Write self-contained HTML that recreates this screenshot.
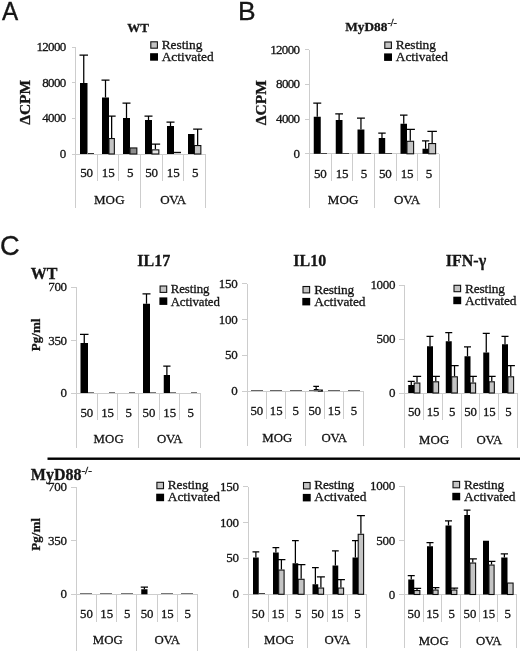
<!DOCTYPE html>
<html lang="en"><head><meta charset="utf-8"><title>Figure</title>
<style>
html,body{margin:0;padding:0;background:#fff;}
svg{display:block;}
text.s{font-family:"Liberation Serif", "DejaVu Serif", serif;fill:#141414;stroke:#141414;stroke-width:.3px;}
text.a{font-family:"Liberation Sans", "DejaVu Sans", sans-serif;fill:#141414;stroke:#141414;stroke-width:.35px;}
</style></head><body>
<svg width="520" height="658" viewBox="0 0 520 658">
<defs><filter id="soft" filterUnits="userSpaceOnUse" x="-20" y="-20" width="560" height="700"><feGaussianBlur stdDeviation="0.4"/></filter></defs>
<g filter="url(#soft)">
<rect x="-20" y="-20" width="560" height="700" fill="#fff"/>
<text class="a" transform="translate(1.9 20.3) scale(0.92 1)" font-size="26.4" text-anchor="start">A</text>
<text class="a" x="238.1" y="20.3" font-size="26.4" text-anchor="start">B</text>
<text class="a" x="0.0" y="254.7" font-size="27.2" text-anchor="start">C</text>
<text class="s" x="138.1" y="31.5" font-size="13" text-anchor="middle" font-weight="bold">WT</text>
<text class="s" font-weight="bold" font-size="15.5" text-anchor="middle" transform="translate(29.6,102.3) rotate(-90)">ΔCPM</text>
<rect x="150.80" y="41.80" width="6.60" height="6.40" fill="#c4c4c4" stroke="#111" stroke-width="1.1"/>
<rect x="150.10" y="53.20" width="7.90" height="7.50" fill="#000"/>
<text class="s" x="161.7" y="49.2" font-size="13.4" text-anchor="start" textLength="40.7" lengthAdjust="spacing">Resting</text>
<text class="s" x="161.7" y="61.2" font-size="13.4" text-anchor="start" textLength="51.9" lengthAdjust="spacing">Activated</text>
<line x1="75.5" y1="47" x2="75.5" y2="154" stroke="#cdcdcd" stroke-width="1"/>
<line x1="72" y1="47.5" x2="76" y2="47.5" stroke="#cdcdcd" stroke-width="1"/>
<text class="s" x="65.64999999999999" y="51.095" font-size="13" text-anchor="end" letter-spacing="-0.65">12000</text>
<line x1="72" y1="82.5" x2="76" y2="82.5" stroke="#cdcdcd" stroke-width="1"/>
<text class="s" x="65.64999999999999" y="86.795" font-size="13" text-anchor="end" letter-spacing="-0.65">8000</text>
<line x1="72" y1="118.5" x2="76" y2="118.5" stroke="#cdcdcd" stroke-width="1"/>
<text class="s" x="65.64999999999999" y="122.395" font-size="13" text-anchor="end" letter-spacing="-0.65">4000</text>
<line x1="72" y1="154.5" x2="76" y2="154.5" stroke="#cdcdcd" stroke-width="1"/>
<text class="s" x="66.3" y="158.095" font-size="13" text-anchor="end">0</text>
<line x1="76" y1="154.5" x2="206" y2="154.5" stroke="#cdcdcd" stroke-width="1"/>
<line x1="75.5" y1="154" x2="75.5" y2="208" stroke="#cdcdcd" stroke-width="1"/>
<line x1="97.5" y1="154" x2="97.5" y2="181" stroke="#cdcdcd" stroke-width="1"/>
<line x1="118.5" y1="154" x2="118.5" y2="181" stroke="#cdcdcd" stroke-width="1"/>
<line x1="140.5" y1="154" x2="140.5" y2="208" stroke="#cdcdcd" stroke-width="1"/>
<line x1="162.5" y1="154" x2="162.5" y2="181" stroke="#cdcdcd" stroke-width="1"/>
<line x1="183.5" y1="154" x2="183.5" y2="181" stroke="#cdcdcd" stroke-width="1"/>
<line x1="205.5" y1="154" x2="205.5" y2="208" stroke="#cdcdcd" stroke-width="1"/>
<text class="s" x="86.53" y="177.10000000000002" font-size="13" text-anchor="middle" letter-spacing="-0.15">50</text>
<text class="s" x="108.20" y="177.10000000000002" font-size="13" text-anchor="middle" letter-spacing="-0.15">15</text>
<text class="s" x="130.17" y="177.10000000000002" font-size="13" text-anchor="middle">5</text>
<text class="s" x="151.53" y="177.10000000000002" font-size="13" text-anchor="middle" letter-spacing="-0.15">50</text>
<text class="s" x="173.20" y="177.10000000000002" font-size="13" text-anchor="middle" letter-spacing="-0.15">15</text>
<text class="s" x="195.17" y="177.10000000000002" font-size="13" text-anchor="middle">5</text>
<text class="s" x="109.30" y="203.9" font-size="13" text-anchor="middle" letter-spacing="0.15">MOG</text>
<text class="s" x="173.10" y="203.9" font-size="13" text-anchor="middle" letter-spacing="-0.2">OVA</text>
<path d="M83.75 83.00V55.00M79.50 55.00H88.00" stroke="#000" stroke-width="1.25" fill="none"/>
<rect x="80.00" y="83.00" width="7.50" height="71.00" fill="#000"/>
<path d="M105.50 97.50V80.00M101.50 80.00H109.50" stroke="#000" stroke-width="1.25" fill="none"/>
<rect x="102.00" y="97.50" width="7.00" height="56.50" fill="#000"/>
<path d="M111.65 138.00V116.00M107.65 116.00H115.65" stroke="#000" stroke-width="1.25" fill="none"/>
<rect x="108.95" y="138.55" width="5.40" height="15.45" fill="#c4c4c4" stroke="#111" stroke-width="1.1"/>
<path d="M126.50 118.00V103.00M122.50 103.00H130.50" stroke="#000" stroke-width="1.25" fill="none"/>
<rect x="123.00" y="118.00" width="7.00" height="36.00" fill="#000"/>
<rect x="129.95" y="147.95" width="6.90" height="6.05" fill="#8c8c8c" stroke="#111" stroke-width="1.1"/>
<path d="M148.50 120.00V116.00M144.50 116.00H152.50" stroke="#000" stroke-width="1.25" fill="none"/>
<rect x="145.00" y="120.00" width="7.00" height="34.00" fill="#000"/>
<path d="M155.40 149.30V144.00M150.65 144.00H160.15" stroke="#000" stroke-width="1.25" fill="none"/>
<rect x="151.95" y="149.85" width="6.90" height="4.15" fill="#e4e4e4" stroke="#111" stroke-width="1.1"/>
<path d="M170.50 126.00V122.00M166.50 122.00H174.50" stroke="#000" stroke-width="1.25" fill="none"/>
<rect x="167.00" y="126.00" width="7.00" height="28.00" fill="#000"/>
<rect x="188.00" y="134.00" width="6.50" height="20.00" fill="#000"/>
<path d="M197.65 145.00V129.00M193.15 129.00H202.15" stroke="#000" stroke-width="1.25" fill="none"/>
<rect x="194.45" y="145.55" width="6.40" height="8.45" fill="#c4c4c4" stroke="#111" stroke-width="1.1"/>
<line x1="88" y1="153.5" x2="94" y2="153.5" stroke="#333" stroke-width="1"/>
<line x1="174" y1="152.5" x2="181" y2="152.5" stroke="#111" stroke-width="1.4"/>
<text class="s" font-weight="bold" font-size="13.3" x="345.3" y="30.5">MyD88<tspan font-size="10" dy="-4.5">-/-</tspan></text>
<text class="s" font-weight="bold" font-size="15.5" text-anchor="middle" transform="translate(266.4,102.7) rotate(-90)">ΔCPM</text>
<rect x="384.80" y="42.00" width="6.60" height="6.40" fill="#c4c4c4" stroke="#111" stroke-width="1.1"/>
<rect x="384.10" y="53.40" width="7.90" height="7.50" fill="#000"/>
<text class="s" x="395.7" y="48.9" font-size="13.4" text-anchor="start" textLength="40.2" lengthAdjust="spacing">Resting</text>
<text class="s" x="395.7" y="60.9" font-size="13.4" text-anchor="start" textLength="52.2" lengthAdjust="spacing">Activated</text>
<line x1="309.5" y1="50" x2="309.5" y2="154" stroke="#cdcdcd" stroke-width="1"/>
<line x1="305" y1="49.5" x2="309" y2="49.5" stroke="#cdcdcd" stroke-width="1"/>
<text class="s" x="299.45" y="53.595" font-size="13" text-anchor="end" letter-spacing="-0.65">12000</text>
<line x1="305" y1="84.5" x2="309" y2="84.5" stroke="#cdcdcd" stroke-width="1"/>
<text class="s" x="299.45" y="88.395" font-size="13" text-anchor="end" letter-spacing="-0.65">8000</text>
<line x1="305" y1="119.5" x2="309" y2="119.5" stroke="#cdcdcd" stroke-width="1"/>
<text class="s" x="299.45" y="123.095" font-size="13" text-anchor="end" letter-spacing="-0.65">4000</text>
<line x1="305" y1="153.5" x2="309" y2="153.5" stroke="#cdcdcd" stroke-width="1"/>
<text class="s" x="300.09999999999997" y="157.895" font-size="13" text-anchor="end">0</text>
<line x1="309" y1="153.5" x2="439" y2="153.5" stroke="#cdcdcd" stroke-width="1"/>
<line x1="309.5" y1="154" x2="309.5" y2="208" stroke="#cdcdcd" stroke-width="1"/>
<line x1="331.5" y1="154" x2="331.5" y2="181" stroke="#cdcdcd" stroke-width="1"/>
<line x1="352.5" y1="154" x2="352.5" y2="181" stroke="#cdcdcd" stroke-width="1"/>
<line x1="374.5" y1="154" x2="374.5" y2="208" stroke="#cdcdcd" stroke-width="1"/>
<line x1="396.5" y1="154" x2="396.5" y2="181" stroke="#cdcdcd" stroke-width="1"/>
<line x1="417.5" y1="154" x2="417.5" y2="181" stroke="#cdcdcd" stroke-width="1"/>
<line x1="439.5" y1="154" x2="439.5" y2="208" stroke="#cdcdcd" stroke-width="1"/>
<text class="s" x="320.33" y="177.60000000000002" font-size="13" text-anchor="middle" letter-spacing="-0.15">50</text>
<text class="s" x="342.00" y="177.60000000000002" font-size="13" text-anchor="middle" letter-spacing="-0.15">15</text>
<text class="s" x="363.97" y="177.60000000000002" font-size="13" text-anchor="middle">5</text>
<text class="s" x="385.33" y="177.60000000000002" font-size="13" text-anchor="middle" letter-spacing="-0.15">50</text>
<text class="s" x="407.00" y="177.60000000000002" font-size="13" text-anchor="middle" letter-spacing="-0.15">15</text>
<text class="s" x="428.97" y="177.60000000000002" font-size="13" text-anchor="middle">5</text>
<text class="s" x="343.10" y="204.10000000000002" font-size="13" text-anchor="middle" letter-spacing="0.15">MOG</text>
<text class="s" x="406.90" y="204.10000000000002" font-size="13" text-anchor="middle" letter-spacing="-0.2">OVA</text>
<path d="M317.25 116.75V103.00M313.25 103.00H321.25" stroke="#000" stroke-width="1.25" fill="none"/>
<rect x="313.75" y="116.75" width="7.00" height="37.05" fill="#000"/>
<path d="M339.12 120.00V113.75M335.25 113.75H343.00" stroke="#000" stroke-width="1.25" fill="none"/>
<rect x="335.75" y="120.00" width="6.75" height="33.80" fill="#000"/>
<path d="M360.95 129.50V118.00M357.00 118.00H364.90" stroke="#000" stroke-width="1.25" fill="none"/>
<rect x="357.50" y="129.50" width="6.90" height="24.30" fill="#000"/>
<path d="M381.98 138.00V133.00M378.25 133.00H385.70" stroke="#000" stroke-width="1.25" fill="none"/>
<rect x="378.75" y="138.00" width="6.45" height="15.80" fill="#000"/>
<path d="M403.75 123.75V115.00M400.00 115.00H407.50" stroke="#000" stroke-width="1.25" fill="none"/>
<rect x="400.50" y="123.75" width="6.50" height="30.05" fill="#000"/>
<path d="M410.27 140.75V129.25M405.65 129.25H414.90" stroke="#000" stroke-width="1.25" fill="none"/>
<rect x="406.95" y="141.30" width="6.65" height="12.50" fill="#c4c4c4" stroke="#111" stroke-width="1.1"/>
<path d="M425.62 148.75V140.75M422.00 140.75H429.25" stroke="#000" stroke-width="1.25" fill="none"/>
<rect x="422.50" y="148.75" width="6.25" height="5.05" fill="#000"/>
<path d="M432.15 143.00V131.25M427.40 131.25H436.90" stroke="#000" stroke-width="1.25" fill="none"/>
<rect x="428.70" y="143.55" width="6.90" height="10.25" fill="#c4c4c4" stroke="#111" stroke-width="1.1"/>
<line x1="321" y1="153.5" x2="327" y2="153.5" stroke="#444" stroke-width="1"/>
<line x1="342" y1="153.5" x2="349" y2="153.5" stroke="#444" stroke-width="1"/>
<line x1="364" y1="153.5" x2="371" y2="153.5" stroke="#444" stroke-width="1"/>
<line x1="385" y1="153.5" x2="392" y2="153.5" stroke="#444" stroke-width="1"/>
<text class="s" x="30.8" y="279.4" font-size="16" text-anchor="start" font-weight="bold">WT</text>
<text class="s" x="153.8" y="266.2" font-size="16" text-anchor="middle" font-weight="bold">IL17</text>
<text class="s" x="309.7" y="266.2" font-size="16" text-anchor="middle" font-weight="bold">IL10</text>
<text class="s" x="466" y="266.0" font-size="16" text-anchor="middle" font-weight="bold">IFN-γ</text>
<text class="s" font-weight="bold" font-size="13" text-anchor="middle" transform="translate(39.9,334.9) rotate(-90)">Pg/ml</text>
<text class="s" font-weight="bold" font-size="13" text-anchor="middle" transform="translate(39.9,534.4) rotate(-90)">Pg/ml</text>
<text class="s" font-weight="bold" font-size="16" x="30.8" y="479.5">MyD88<tspan font-size="11" dy="-5.3">-/-</tspan></text>
<rect x="47.50" y="457.50" width="490.00" height="2.40" fill="#000"/>
<rect x="160.10" y="286.00" width="6.60" height="6.40" fill="#c4c4c4" stroke="#111" stroke-width="1.1"/>
<rect x="159.40" y="297.40" width="7.90" height="7.50" fill="#000"/>
<text class="s" x="170.7" y="293" font-size="12.84" text-anchor="start" textLength="38.7" lengthAdjust="spacing">Resting</text>
<text class="s" x="170.7" y="305.6" font-size="12.84" text-anchor="start" textLength="49.2" lengthAdjust="spacing">Activated</text>
<line x1="76.5" y1="287" x2="76.5" y2="393" stroke="#cdcdcd" stroke-width="1"/>
<line x1="71" y1="287.5" x2="76" y2="287.5" stroke="#cdcdcd" stroke-width="1"/>
<text class="s" x="66.80000000000001" y="291.095" font-size="13" text-anchor="end" letter-spacing="-0.3">700</text>
<line x1="71" y1="340.5" x2="76" y2="340.5" stroke="#cdcdcd" stroke-width="1"/>
<text class="s" x="66.80000000000001" y="344.595" font-size="13" text-anchor="end" letter-spacing="-0.3">350</text>
<line x1="71" y1="393.5" x2="76" y2="393.5" stroke="#cdcdcd" stroke-width="1"/>
<text class="s" x="67.10000000000001" y="397.095" font-size="13" text-anchor="end">0</text>
<line x1="76" y1="393.5" x2="201" y2="393.5" stroke="#cdcdcd" stroke-width="1"/>
<line x1="76.5" y1="393" x2="76.5" y2="448" stroke="#cdcdcd" stroke-width="1"/>
<line x1="97.5" y1="393" x2="97.5" y2="420" stroke="#cdcdcd" stroke-width="1"/>
<line x1="117.5" y1="393" x2="117.5" y2="420" stroke="#cdcdcd" stroke-width="1"/>
<line x1="138.5" y1="393" x2="138.5" y2="448" stroke="#cdcdcd" stroke-width="1"/>
<line x1="159.5" y1="393" x2="159.5" y2="420" stroke="#cdcdcd" stroke-width="1"/>
<line x1="179.5" y1="393" x2="179.5" y2="420" stroke="#cdcdcd" stroke-width="1"/>
<line x1="200.5" y1="393" x2="200.5" y2="448" stroke="#cdcdcd" stroke-width="1"/>
<text class="s" x="86.86" y="416.5" font-size="12.8" text-anchor="middle" letter-spacing="0">50</text>
<text class="s" x="107.58" y="416.5" font-size="12.8" text-anchor="middle" letter-spacing="0">15</text>
<text class="s" x="128.59" y="416.5" font-size="12.8" text-anchor="middle">5</text>
<text class="s" x="149.01" y="416.5" font-size="12.8" text-anchor="middle" letter-spacing="0">50</text>
<text class="s" x="169.72" y="416.5" font-size="12.8" text-anchor="middle" letter-spacing="0">15</text>
<text class="s" x="190.74" y="416.5" font-size="12.8" text-anchor="middle">5</text>
<text class="s" x="108.68" y="443.3" font-size="12.8" text-anchor="middle" letter-spacing="0.10">MOG</text>
<text class="s" x="169.62" y="443.3" font-size="12.8" text-anchor="middle" letter-spacing="-0.25">OVA</text>
<path d="M84.25 343.00V334.25M80.00 334.25H88.50" stroke="#000" stroke-width="1.25" fill="none"/>
<rect x="80.50" y="343.00" width="7.50" height="50.00" fill="#000"/>
<path d="M146.50 303.75V293.75M142.50 293.75H150.50" stroke="#000" stroke-width="1.25" fill="none"/>
<rect x="143.00" y="303.75" width="7.00" height="89.25" fill="#000"/>
<path d="M166.88 375.00V366.00M163.25 366.00H170.50" stroke="#000" stroke-width="1.25" fill="none"/>
<rect x="163.75" y="375.00" width="6.25" height="18.00" fill="#000"/>
<line x1="88" y1="392.5" x2="94" y2="392.5" stroke="#777" stroke-width="1"/>
<line x1="109" y1="392.5" x2="115" y2="392.5" stroke="#777" stroke-width="1"/>
<line x1="129" y1="392.5" x2="135" y2="392.5" stroke="#777" stroke-width="1"/>
<line x1="150" y1="392.5" x2="156" y2="392.5" stroke="#777" stroke-width="1"/>
<line x1="170" y1="392.5" x2="176" y2="392.5" stroke="#777" stroke-width="1"/>
<line x1="191" y1="392.5" x2="197" y2="392.5" stroke="#777" stroke-width="1"/>
<rect x="303.00" y="286.50" width="6.60" height="6.40" fill="#c4c4c4" stroke="#111" stroke-width="1.1"/>
<rect x="302.30" y="297.90" width="7.90" height="7.50" fill="#000"/>
<text class="s" x="314.2" y="293.8" font-size="13.37" text-anchor="start" textLength="40.0" lengthAdjust="spacing">Resting</text>
<text class="s" x="314.2" y="305.6" font-size="13.37" text-anchor="start" textLength="51.2" lengthAdjust="spacing">Activated</text>
<line x1="247.5" y1="284" x2="247.5" y2="391" stroke="#cdcdcd" stroke-width="1"/>
<line x1="242" y1="283.5" x2="247" y2="283.5" stroke="#cdcdcd" stroke-width="1"/>
<text class="s" x="237.39999999999998" y="287.795" font-size="13" text-anchor="end" letter-spacing="-0.3">150</text>
<line x1="242" y1="319.5" x2="247" y2="319.5" stroke="#cdcdcd" stroke-width="1"/>
<text class="s" x="237.39999999999998" y="323.595" font-size="13" text-anchor="end" letter-spacing="-0.3">100</text>
<line x1="242" y1="355.5" x2="247" y2="355.5" stroke="#cdcdcd" stroke-width="1"/>
<text class="s" x="237.39999999999998" y="359.39500000000004" font-size="13" text-anchor="end" letter-spacing="-0.3">50</text>
<line x1="242" y1="391.5" x2="247" y2="391.5" stroke="#cdcdcd" stroke-width="1"/>
<text class="s" x="237.7" y="395.295" font-size="13" text-anchor="end">0</text>
<line x1="247" y1="391.5" x2="363" y2="391.5" stroke="#cdcdcd" stroke-width="1"/>
<line x1="247.5" y1="391" x2="247.5" y2="446" stroke="#cdcdcd" stroke-width="1"/>
<line x1="266.5" y1="391" x2="266.5" y2="419" stroke="#cdcdcd" stroke-width="1"/>
<line x1="285.5" y1="391" x2="285.5" y2="419" stroke="#cdcdcd" stroke-width="1"/>
<line x1="305.5" y1="391" x2="305.5" y2="446" stroke="#cdcdcd" stroke-width="1"/>
<line x1="324.5" y1="391" x2="324.5" y2="419" stroke="#cdcdcd" stroke-width="1"/>
<line x1="343.5" y1="391" x2="343.5" y2="419" stroke="#cdcdcd" stroke-width="1"/>
<line x1="363.5" y1="391" x2="363.5" y2="446" stroke="#cdcdcd" stroke-width="1"/>
<text class="s" x="256.78" y="414.8" font-size="12.8" text-anchor="middle" letter-spacing="0">50</text>
<text class="s" x="276.15" y="414.8" font-size="12.8" text-anchor="middle" letter-spacing="0">15</text>
<text class="s" x="295.82" y="414.8" font-size="12.8" text-anchor="middle">5</text>
<text class="s" x="314.88" y="414.8" font-size="12.8" text-anchor="middle" letter-spacing="0">50</text>
<text class="s" x="334.25" y="414.8" font-size="12.8" text-anchor="middle" letter-spacing="0">15</text>
<text class="s" x="353.92" y="414.8" font-size="12.8" text-anchor="middle">5</text>
<text class="s" x="277.25" y="441.6" font-size="12.8" text-anchor="middle" letter-spacing="0.10">MOG</text>
<text class="s" x="334.15" y="441.6" font-size="12.8" text-anchor="middle" letter-spacing="-0.25">OVA</text>
<path d="M316.15 389.00V386.30M313.30 386.30H319.00" stroke="#000" stroke-width="1.25" fill="none"/>
<rect x="313.80" y="389.00" width="4.70" height="2.20" fill="#000"/>
<rect x="318.45" y="390.05" width="3.90" height="1.15" fill="#c4c4c4" stroke="#111" stroke-width="1.1"/>
<line x1="251" y1="390.5" x2="263" y2="390.5" stroke="#666" stroke-width="1"/>
<line x1="270" y1="390.5" x2="282" y2="390.5" stroke="#666" stroke-width="1"/>
<line x1="290" y1="390.5" x2="302" y2="390.5" stroke="#666" stroke-width="1"/>
<line x1="309" y1="390.5" x2="321" y2="390.5" stroke="#666" stroke-width="1"/>
<line x1="328" y1="390.5" x2="340" y2="390.5" stroke="#666" stroke-width="1"/>
<line x1="348" y1="390.5" x2="360" y2="390.5" stroke="#666" stroke-width="1"/>
<rect x="454.00" y="285.30" width="6.60" height="6.40" fill="#c4c4c4" stroke="#111" stroke-width="1.1"/>
<rect x="453.30" y="296.70" width="7.90" height="7.50" fill="#000"/>
<text class="s" x="465.0" y="292.8" font-size="13.4" text-anchor="start" textLength="40.0" lengthAdjust="spacing">Resting</text>
<text class="s" x="465.0" y="304.6" font-size="13.4" text-anchor="start" textLength="51.5" lengthAdjust="spacing">Activated</text>
<line x1="404.5" y1="285" x2="404.5" y2="393" stroke="#cdcdcd" stroke-width="1"/>
<line x1="399" y1="285.5" x2="405" y2="285.5" stroke="#cdcdcd" stroke-width="1"/>
<text class="s" x="395.2" y="289.495" font-size="13" text-anchor="end" letter-spacing="-0.3">1000</text>
<line x1="399" y1="339.5" x2="405" y2="339.5" stroke="#cdcdcd" stroke-width="1"/>
<text class="s" x="395.2" y="343.39500000000004" font-size="13" text-anchor="end" letter-spacing="-0.3">500</text>
<line x1="399" y1="393.5" x2="405" y2="393.5" stroke="#cdcdcd" stroke-width="1"/>
<text class="s" x="395.5" y="397.095" font-size="13" text-anchor="end">0</text>
<line x1="405" y1="393.5" x2="517" y2="393.5" stroke="#cdcdcd" stroke-width="1"/>
<line x1="404.5" y1="393" x2="404.5" y2="448" stroke="#cdcdcd" stroke-width="1"/>
<line x1="423.5" y1="393" x2="423.5" y2="420" stroke="#cdcdcd" stroke-width="1"/>
<line x1="442.5" y1="393" x2="442.5" y2="420" stroke="#cdcdcd" stroke-width="1"/>
<line x1="461.5" y1="393" x2="461.5" y2="448" stroke="#cdcdcd" stroke-width="1"/>
<line x1="479.5" y1="393" x2="479.5" y2="420" stroke="#cdcdcd" stroke-width="1"/>
<line x1="498.5" y1="393" x2="498.5" y2="420" stroke="#cdcdcd" stroke-width="1"/>
<line x1="517.5" y1="393" x2="517.5" y2="448" stroke="#cdcdcd" stroke-width="1"/>
<text class="s" x="414.28" y="415.8" font-size="12.8" text-anchor="middle" letter-spacing="0">50</text>
<text class="s" x="433.05" y="415.8" font-size="12.8" text-anchor="middle" letter-spacing="0">15</text>
<text class="s" x="452.12" y="415.8" font-size="12.8" text-anchor="middle">5</text>
<text class="s" x="470.58" y="415.8" font-size="12.8" text-anchor="middle" letter-spacing="0">50</text>
<text class="s" x="489.35" y="415.8" font-size="12.8" text-anchor="middle" letter-spacing="0">15</text>
<text class="s" x="508.42" y="415.8" font-size="12.8" text-anchor="middle">5</text>
<text class="s" x="434.15" y="443.5" font-size="12.8" text-anchor="middle" letter-spacing="0.10">MOG</text>
<text class="s" x="489.25" y="443.5" font-size="12.8" text-anchor="middle" letter-spacing="-0.25">OVA</text>
<path d="M411.25 385.00V381.25M407.75 381.25H414.75" stroke="#000" stroke-width="1.25" fill="none"/>
<rect x="408.25" y="385.00" width="6.00" height="8.00" fill="#000"/>
<path d="M417.02 382.50V376.25M412.90 376.25H421.15" stroke="#000" stroke-width="1.25" fill="none"/>
<rect x="414.20" y="383.05" width="5.65" height="9.95" fill="#c4c4c4" stroke="#111" stroke-width="1.1"/>
<path d="M430.00 346.25V336.25M426.50 336.25H433.50" stroke="#000" stroke-width="1.25" fill="none"/>
<rect x="427.00" y="346.25" width="6.00" height="46.75" fill="#000"/>
<path d="M435.77 381.25V376.25M431.65 376.25H439.90" stroke="#000" stroke-width="1.25" fill="none"/>
<rect x="432.95" y="381.80" width="5.65" height="11.20" fill="#c4c4c4" stroke="#111" stroke-width="1.1"/>
<path d="M448.75 341.25V332.50M445.25 332.50H452.25" stroke="#000" stroke-width="1.25" fill="none"/>
<rect x="445.75" y="341.25" width="6.00" height="51.75" fill="#000"/>
<path d="M454.52 376.25V365.50M450.40 365.50H458.65" stroke="#000" stroke-width="1.25" fill="none"/>
<rect x="451.70" y="376.80" width="5.65" height="16.20" fill="#c4c4c4" stroke="#111" stroke-width="1.1"/>
<path d="M467.50 356.25V346.75M464.00 346.75H471.00" stroke="#000" stroke-width="1.25" fill="none"/>
<rect x="464.50" y="356.25" width="6.00" height="36.75" fill="#000"/>
<path d="M473.02 382.50V376.25M469.15 376.25H476.90" stroke="#000" stroke-width="1.25" fill="none"/>
<rect x="470.45" y="383.05" width="5.15" height="9.95" fill="#c4c4c4" stroke="#111" stroke-width="1.1"/>
<path d="M486.25 352.50V333.25M482.75 333.25H489.75" stroke="#000" stroke-width="1.25" fill="none"/>
<rect x="483.25" y="352.50" width="6.00" height="40.50" fill="#000"/>
<path d="M491.77 381.25V376.25M487.90 376.25H495.65" stroke="#000" stroke-width="1.25" fill="none"/>
<rect x="489.20" y="381.80" width="5.15" height="11.20" fill="#c4c4c4" stroke="#111" stroke-width="1.1"/>
<path d="M505.00 344.25V336.25M501.50 336.25H508.50" stroke="#000" stroke-width="1.25" fill="none"/>
<rect x="502.00" y="344.25" width="6.00" height="48.75" fill="#000"/>
<path d="M510.77 376.25V365.50M506.65 365.50H514.90" stroke="#000" stroke-width="1.25" fill="none"/>
<rect x="507.95" y="376.80" width="5.65" height="16.20" fill="#c4c4c4" stroke="#111" stroke-width="1.1"/>
<rect x="156.90" y="482.30" width="6.60" height="6.40" fill="#c4c4c4" stroke="#111" stroke-width="1.1"/>
<rect x="156.20" y="493.70" width="7.90" height="7.50" fill="#000"/>
<text class="s" x="167.7" y="489.3" font-size="13.4" text-anchor="start" textLength="40.7" lengthAdjust="spacing">Resting</text>
<text class="s" x="167.7" y="501.3" font-size="13.4" text-anchor="start" textLength="52.2" lengthAdjust="spacing">Activated</text>
<line x1="76.5" y1="487" x2="76.5" y2="594" stroke="#cdcdcd" stroke-width="1"/>
<line x1="71" y1="487.5" x2="76" y2="487.5" stroke="#cdcdcd" stroke-width="1"/>
<text class="s" x="66.65" y="491.095" font-size="13" text-anchor="end" letter-spacing="-0.3">700</text>
<line x1="71" y1="540.5" x2="76" y2="540.5" stroke="#cdcdcd" stroke-width="1"/>
<text class="s" x="66.65" y="544.7950000000001" font-size="13" text-anchor="end" letter-spacing="-0.3">350</text>
<line x1="71" y1="594.5" x2="76" y2="594.5" stroke="#cdcdcd" stroke-width="1"/>
<text class="s" x="66.95" y="598.395" font-size="13" text-anchor="end">0</text>
<line x1="76" y1="594.5" x2="198" y2="594.5" stroke="#cdcdcd" stroke-width="1"/>
<line x1="76.5" y1="594" x2="76.5" y2="651" stroke="#cdcdcd" stroke-width="1"/>
<line x1="96.5" y1="594" x2="96.5" y2="622" stroke="#cdcdcd" stroke-width="1"/>
<line x1="116.5" y1="594" x2="116.5" y2="622" stroke="#cdcdcd" stroke-width="1"/>
<line x1="136.5" y1="594" x2="136.5" y2="651" stroke="#cdcdcd" stroke-width="1"/>
<line x1="157.5" y1="594" x2="157.5" y2="622" stroke="#cdcdcd" stroke-width="1"/>
<line x1="177.5" y1="594" x2="177.5" y2="622" stroke="#cdcdcd" stroke-width="1"/>
<line x1="197.5" y1="594" x2="197.5" y2="651" stroke="#cdcdcd" stroke-width="1"/>
<text class="s" x="86.45" y="617.8" font-size="12.8" text-anchor="middle" letter-spacing="0">50</text>
<text class="s" x="106.66" y="617.8" font-size="12.8" text-anchor="middle" letter-spacing="0">15</text>
<text class="s" x="127.17" y="617.8" font-size="12.8" text-anchor="middle">5</text>
<text class="s" x="147.08" y="617.8" font-size="12.8" text-anchor="middle" letter-spacing="0">50</text>
<text class="s" x="167.29" y="617.8" font-size="12.8" text-anchor="middle" letter-spacing="0">15</text>
<text class="s" x="187.80" y="617.8" font-size="12.8" text-anchor="middle">5</text>
<text class="s" x="107.76" y="644.3" font-size="12.8" text-anchor="middle" letter-spacing="0.10">MOG</text>
<text class="s" x="167.19" y="644.3" font-size="12.8" text-anchor="middle" letter-spacing="-0.25">OVA</text>
<path d="M144.38 589.25V587.00M140.75 587.00H148.00" stroke="#000" stroke-width="1.25" fill="none"/>
<rect x="141.25" y="589.25" width="6.25" height="5.05" fill="#000"/>
<line x1="80" y1="593.5" x2="92" y2="593.5" stroke="#777" stroke-width="1"/>
<line x1="100" y1="593.5" x2="112" y2="593.5" stroke="#777" stroke-width="1"/>
<line x1="121" y1="593.5" x2="133" y2="593.5" stroke="#777" stroke-width="1"/>
<line x1="161" y1="593.5" x2="173" y2="593.5" stroke="#777" stroke-width="1"/>
<line x1="181" y1="593.5" x2="193" y2="593.5" stroke="#777" stroke-width="1"/>
<rect x="303.50" y="482.50" width="6.60" height="6.40" fill="#c4c4c4" stroke="#111" stroke-width="1.1"/>
<rect x="302.80" y="493.90" width="7.90" height="7.50" fill="#000"/>
<text class="s" x="314.2" y="489.3" font-size="13.4" text-anchor="start" textLength="40.0" lengthAdjust="spacing">Resting</text>
<text class="s" x="314.2" y="501.3" font-size="13.4" text-anchor="start" textLength="52.2" lengthAdjust="spacing">Activated</text>
<line x1="248.5" y1="487" x2="248.5" y2="594" stroke="#cdcdcd" stroke-width="1"/>
<line x1="243" y1="486.5" x2="248" y2="486.5" stroke="#cdcdcd" stroke-width="1"/>
<text class="s" x="238.64999999999998" y="490.69500000000005" font-size="13" text-anchor="end" letter-spacing="-0.3">150</text>
<line x1="243" y1="522.5" x2="248" y2="522.5" stroke="#cdcdcd" stroke-width="1"/>
<text class="s" x="238.64999999999998" y="526.595" font-size="13" text-anchor="end" letter-spacing="-0.3">100</text>
<line x1="243" y1="558.5" x2="248" y2="558.5" stroke="#cdcdcd" stroke-width="1"/>
<text class="s" x="238.64999999999998" y="562.495" font-size="13" text-anchor="end" letter-spacing="-0.3">50</text>
<line x1="243" y1="594.5" x2="248" y2="594.5" stroke="#cdcdcd" stroke-width="1"/>
<text class="s" x="238.95" y="598.395" font-size="13" text-anchor="end">0</text>
<line x1="248" y1="594.5" x2="367" y2="594.5" stroke="#cdcdcd" stroke-width="1"/>
<line x1="248.5" y1="594" x2="248.5" y2="648" stroke="#cdcdcd" stroke-width="1"/>
<line x1="268.5" y1="594" x2="268.5" y2="622" stroke="#cdcdcd" stroke-width="1"/>
<line x1="287.5" y1="594" x2="287.5" y2="622" stroke="#cdcdcd" stroke-width="1"/>
<line x1="307.5" y1="594" x2="307.5" y2="648" stroke="#cdcdcd" stroke-width="1"/>
<line x1="327.5" y1="594" x2="327.5" y2="622" stroke="#cdcdcd" stroke-width="1"/>
<line x1="347.5" y1="594" x2="347.5" y2="622" stroke="#cdcdcd" stroke-width="1"/>
<line x1="366.5" y1="594" x2="366.5" y2="648" stroke="#cdcdcd" stroke-width="1"/>
<text class="s" x="258.24" y="617.8" font-size="12.8" text-anchor="middle" letter-spacing="0">50</text>
<text class="s" x="278.01" y="617.8" font-size="12.8" text-anchor="middle" letter-spacing="0">15</text>
<text class="s" x="298.09" y="617.8" font-size="12.8" text-anchor="middle">5</text>
<text class="s" x="317.56" y="617.8" font-size="12.8" text-anchor="middle" letter-spacing="0">50</text>
<text class="s" x="337.34" y="617.8" font-size="12.8" text-anchor="middle" letter-spacing="0">15</text>
<text class="s" x="357.41" y="617.8" font-size="12.8" text-anchor="middle">5</text>
<text class="s" x="279.11" y="644.3" font-size="12.8" text-anchor="middle" letter-spacing="0.10">MOG</text>
<text class="s" x="337.24" y="644.3" font-size="12.8" text-anchor="middle" letter-spacing="-0.25">OVA</text>
<path d="M255.88 557.50V551.75M252.50 551.75H259.25" stroke="#000" stroke-width="1.25" fill="none"/>
<rect x="253.00" y="557.50" width="5.75" height="36.80" fill="#000"/>
<path d="M275.88 552.50V547.50M272.50 547.50H279.25" stroke="#000" stroke-width="1.25" fill="none"/>
<rect x="273.00" y="552.50" width="5.75" height="41.80" fill="#000"/>
<path d="M281.40 569.50V559.50M277.40 559.50H285.40" stroke="#000" stroke-width="1.25" fill="none"/>
<rect x="278.70" y="570.05" width="5.40" height="24.25" fill="#c4c4c4" stroke="#111" stroke-width="1.1"/>
<path d="M295.38 563.25V540.50M292.00 540.50H298.75" stroke="#000" stroke-width="1.25" fill="none"/>
<rect x="292.50" y="563.25" width="5.75" height="31.05" fill="#000"/>
<path d="M301.15 578.75V564.50M296.90 564.50H305.40" stroke="#000" stroke-width="1.25" fill="none"/>
<rect x="298.20" y="579.30" width="5.90" height="15.00" fill="#c4c4c4" stroke="#111" stroke-width="1.1"/>
<path d="M315.38 584.25V567.50M312.00 567.50H318.75" stroke="#000" stroke-width="1.25" fill="none"/>
<rect x="312.50" y="584.25" width="5.75" height="10.05" fill="#000"/>
<path d="M320.90 587.50V576.75M316.90 576.75H324.90" stroke="#000" stroke-width="1.25" fill="none"/>
<rect x="318.20" y="588.05" width="5.40" height="6.25" fill="#c4c4c4" stroke="#111" stroke-width="1.1"/>
<path d="M335.38 565.50V550.75M332.00 550.75H338.75" stroke="#000" stroke-width="1.25" fill="none"/>
<rect x="332.50" y="565.50" width="5.75" height="28.80" fill="#000"/>
<path d="M340.90 587.50V579.50M336.90 579.50H344.90" stroke="#000" stroke-width="1.25" fill="none"/>
<rect x="338.20" y="588.05" width="5.40" height="6.25" fill="#c4c4c4" stroke="#111" stroke-width="1.1"/>
<path d="M355.38 557.50V540.50M352.00 540.50H358.75" stroke="#000" stroke-width="1.25" fill="none"/>
<rect x="352.50" y="557.50" width="5.75" height="36.80" fill="#000"/>
<path d="M360.90 533.75V515.50M356.90 515.50H364.90" stroke="#000" stroke-width="1.25" fill="none"/>
<rect x="358.20" y="534.30" width="5.40" height="60.00" fill="#c4c4c4" stroke="#111" stroke-width="1.1"/>
<line x1="259" y1="593.5" x2="265" y2="593.5" stroke="#444" stroke-width="1"/>
<rect x="453.00" y="481.40" width="6.60" height="6.40" fill="#c4c4c4" stroke="#111" stroke-width="1.1"/>
<rect x="452.30" y="492.80" width="7.90" height="7.50" fill="#000"/>
<text class="s" x="464.0" y="488.8" font-size="13.4" text-anchor="start" textLength="40.2" lengthAdjust="spacing">Resting</text>
<text class="s" x="464.0" y="501.2" font-size="13.4" text-anchor="start" textLength="51.5" lengthAdjust="spacing">Activated</text>
<line x1="404.5" y1="486" x2="404.5" y2="594" stroke="#cdcdcd" stroke-width="1"/>
<line x1="399" y1="486.5" x2="404" y2="486.5" stroke="#cdcdcd" stroke-width="1"/>
<text class="s" x="394.9" y="490.295" font-size="13" text-anchor="end" letter-spacing="-0.3">1000</text>
<line x1="399" y1="540.5" x2="404" y2="540.5" stroke="#cdcdcd" stroke-width="1"/>
<text class="s" x="394.9" y="544.595" font-size="13" text-anchor="end" letter-spacing="-0.3">500</text>
<line x1="399" y1="594.5" x2="404" y2="594.5" stroke="#cdcdcd" stroke-width="1"/>
<text class="s" x="395.2" y="598.595" font-size="13" text-anchor="end">0</text>
<line x1="404" y1="594.5" x2="517" y2="594.5" stroke="#cdcdcd" stroke-width="1"/>
<line x1="404.5" y1="594" x2="404.5" y2="648" stroke="#cdcdcd" stroke-width="1"/>
<line x1="423.5" y1="594" x2="423.5" y2="622" stroke="#cdcdcd" stroke-width="1"/>
<line x1="441.5" y1="594" x2="441.5" y2="622" stroke="#cdcdcd" stroke-width="1"/>
<line x1="460.5" y1="594" x2="460.5" y2="648" stroke="#cdcdcd" stroke-width="1"/>
<line x1="479.5" y1="594" x2="479.5" y2="622" stroke="#cdcdcd" stroke-width="1"/>
<line x1="497.5" y1="594" x2="497.5" y2="622" stroke="#cdcdcd" stroke-width="1"/>
<line x1="516.5" y1="594" x2="516.5" y2="648" stroke="#cdcdcd" stroke-width="1"/>
<text class="s" x="413.94" y="617.8" font-size="12.8" text-anchor="middle" letter-spacing="0">50</text>
<text class="s" x="432.62" y="617.8" font-size="12.8" text-anchor="middle" letter-spacing="0">15</text>
<text class="s" x="451.61" y="617.8" font-size="12.8" text-anchor="middle">5</text>
<text class="s" x="469.99" y="617.8" font-size="12.8" text-anchor="middle" letter-spacing="0">50</text>
<text class="s" x="488.68" y="617.8" font-size="12.8" text-anchor="middle" letter-spacing="0">15</text>
<text class="s" x="507.66" y="617.8" font-size="12.8" text-anchor="middle">5</text>
<text class="s" x="433.72" y="644.8" font-size="12.8" text-anchor="middle" letter-spacing="0.10">MOG</text>
<text class="s" x="488.58" y="644.8" font-size="12.8" text-anchor="middle" letter-spacing="-0.25">OVA</text>
<path d="M411.25 579.50V575.50M407.75 575.50H414.75" stroke="#000" stroke-width="1.25" fill="none"/>
<rect x="408.25" y="579.50" width="6.00" height="15.00" fill="#000"/>
<path d="M417.02 590.00V588.25M412.90 588.25H421.15" stroke="#000" stroke-width="1.25" fill="none"/>
<rect x="414.20" y="590.55" width="5.65" height="3.95" fill="#c4c4c4" stroke="#111" stroke-width="1.1"/>
<path d="M430.00 546.25V542.50M426.50 542.50H433.50" stroke="#000" stroke-width="1.25" fill="none"/>
<rect x="427.00" y="546.25" width="6.00" height="48.25" fill="#000"/>
<path d="M435.52 589.50V587.50M431.65 587.50H439.40" stroke="#000" stroke-width="1.25" fill="none"/>
<rect x="432.95" y="590.05" width="5.15" height="4.45" fill="#c4c4c4" stroke="#111" stroke-width="1.1"/>
<path d="M448.50 525.50V520.75M445.00 520.75H452.00" stroke="#000" stroke-width="1.25" fill="none"/>
<rect x="445.50" y="525.50" width="6.00" height="69.00" fill="#000"/>
<path d="M454.15 589.50V588.00M450.15 588.00H458.15" stroke="#000" stroke-width="1.25" fill="none"/>
<rect x="451.45" y="590.05" width="5.40" height="4.45" fill="#c4c4c4" stroke="#111" stroke-width="1.1"/>
<path d="M467.12 515.00V510.00M463.75 510.00H470.50" stroke="#000" stroke-width="1.25" fill="none"/>
<rect x="464.25" y="515.00" width="5.75" height="79.50" fill="#000"/>
<path d="M472.77 562.50V558.75M468.65 558.75H476.90" stroke="#000" stroke-width="1.25" fill="none"/>
<rect x="469.95" y="563.05" width="5.65" height="31.45" fill="#c4c4c4" stroke="#111" stroke-width="1.1"/>
<rect x="483.00" y="540.75" width="6.00" height="53.75" fill="#000"/>
<path d="M491.52 564.50V561.25M487.65 561.25H495.40" stroke="#000" stroke-width="1.25" fill="none"/>
<rect x="488.95" y="565.05" width="5.15" height="29.45" fill="#c4c4c4" stroke="#111" stroke-width="1.1"/>
<path d="M504.38 557.50V553.75M500.75 553.75H508.00" stroke="#000" stroke-width="1.25" fill="none"/>
<rect x="501.25" y="557.50" width="6.25" height="37.00" fill="#000"/>
<rect x="507.45" y="583.05" width="5.65" height="11.45" fill="#c4c4c4" stroke="#111" stroke-width="1.1"/>
</g>
</svg>
</body></html>
